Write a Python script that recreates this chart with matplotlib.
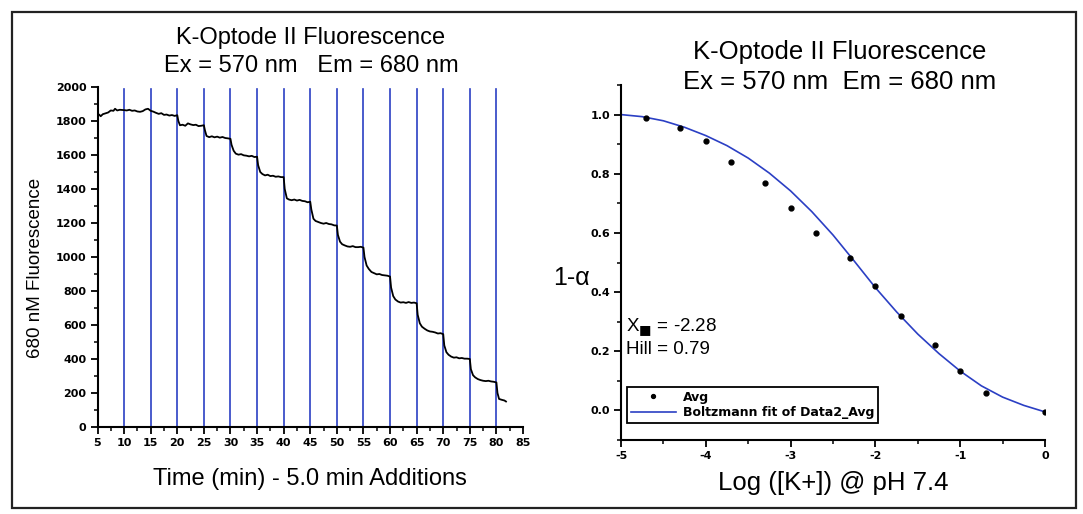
import matplotlib
matplotlib.use("Agg")
import matplotlib.pyplot as plt
from matplotlib.patches import Rectangle
from matplotlib.ticker import MultipleLocator

# ---------------- data: left panel (time trace) ----------------
time_min = [5.0, 5.3, 5.6, 6.0, 6.5, 7.0, 7.5, 8.0, 8.3, 8.7, 9.2, 10.0, 10.5, 11.0, 11.5,
            12.0, 12.5, 13.0, 13.5, 14.0, 14.5, 15.0, 15.5, 16.0, 16.5, 17.0, 17.5, 18.0,
            18.5, 19.0, 19.5, 20.0, 20.2, 20.5, 21.0, 21.5, 22.0, 22.5, 23.0, 23.5, 24.0,
            24.5, 25.0, 25.2, 25.5, 26.0, 26.5, 27.0, 27.5, 28.0, 28.5, 29.0, 29.5, 30.0,
            30.2, 30.6, 31.0, 31.5, 32.0, 32.5, 33.0, 33.5, 34.0, 34.5, 35.0, 35.2, 35.6,
            36.0, 36.5, 37.0, 37.5, 38.0, 38.5, 39.0, 39.5, 40.0, 40.2, 40.6, 41.0, 41.5,
            42.0, 42.5, 43.0, 43.5, 44.0, 44.5, 45.0, 45.2, 45.6, 46.0, 46.5, 47.0, 47.5,
            48.0, 48.5, 49.0, 49.5, 50.0, 50.2, 50.6, 51.0, 51.5, 52.0, 52.5, 53.0, 53.5,
            54.0, 54.5, 55.0, 55.2, 55.6, 56.0, 56.5, 57.0, 57.5, 58.0, 58.5, 59.0, 59.5,
            60.0, 60.2, 60.6, 61.0, 61.5, 62.0, 62.5, 63.0, 63.5, 64.0, 64.5, 65.0, 65.2,
            65.6, 66.0, 66.5, 67.0, 67.5, 68.0, 68.5, 69.0, 69.5, 70.0, 70.2, 70.6, 71.0,
            71.5, 72.0, 72.5, 73.0, 73.5, 74.0, 74.5, 75.0, 75.2, 75.6, 76.0, 76.5, 77.0,
            77.5, 78.0, 78.5, 79.0, 79.5, 80.0, 80.2, 80.5, 81.0, 81.5, 81.8]
fluorescence = [1830, 1838, 1828, 1840, 1845, 1850, 1862, 1860, 1872, 1862, 1866, 1864, 1862,
                1866, 1860, 1862, 1856, 1854, 1858, 1868, 1872, 1860, 1855, 1848, 1842, 1846,
                1836, 1838, 1832, 1835, 1830, 1834, 1800, 1775, 1778, 1772, 1786, 1780, 1776,
                1778, 1770, 1772, 1775, 1745, 1712, 1705, 1710, 1704, 1708, 1702, 1706, 1700,
                1698, 1695, 1660, 1625, 1608, 1602, 1605, 1598, 1596, 1592, 1595, 1588, 1590,
                1540, 1500, 1488, 1480, 1484, 1476, 1478, 1472, 1474, 1470, 1470, 1400, 1345,
                1338, 1334, 1338, 1332, 1336, 1330, 1328, 1322, 1325, 1280, 1225, 1212, 1206,
                1200, 1196, 1200, 1194, 1192, 1186, 1185, 1130, 1090, 1075, 1068, 1062, 1060,
                1064, 1058, 1058, 1060, 1055, 1000, 950, 930, 912, 905, 898, 900, 894, 892,
                890, 885, 820, 770, 750, 738, 732, 734, 730, 735, 730, 732, 728, 660, 610,
                590, 578, 568, 562, 560, 556, 550, 552, 546, 480, 440, 425, 414, 408, 410,
                404, 406, 402, 402, 400, 340, 305, 292, 282, 276, 272, 270, 272, 268, 266,
                262, 200, 165, 160, 156, 150]
addition_times = [10, 15, 20, 25, 30, 35, 40, 45, 50, 55, 60, 65, 70, 75, 80]
left_xticks = [5, 10, 15, 20, 25, 30, 35, 40, 45, 50, 55, 60, 65, 70, 75, 80, 85]
left_yticks = [0, 200, 400, 600, 800, 1000, 1200, 1400, 1600, 1800, 2000]

# ---------------- data: right panel (titration) ----------------
log_k = [-4.7, -4.3, -4.0, -3.7, -3.3, -3.0, -2.7, -2.3, -2.0, -1.7, -1.3, -1.0, -0.7, 0.0]
one_minus_alpha = [0.987, 0.954, 0.91, 0.84, 0.77, 0.683, 0.60, 0.516, 0.42, 0.32, 0.22,
                   0.132, 0.06, -0.007]
fit_x = [-5.0, -4.75, -4.5, -4.25, -4.0, -3.75, -3.5, -3.25, -3.0, -2.75, -2.5, -2.25,
         -2.0, -1.75, -1.5, -1.25, -1.0, -0.75, -0.5, -0.25, 0.0]
fit_y = [1.0, 0.993, 0.979, 0.957, 0.929, 0.895, 0.853, 0.802, 0.742, 0.672, 0.593, 0.505,
         0.415, 0.333, 0.258, 0.192, 0.133, 0.083, 0.045, 0.017, -0.005]
right_xticks = [-5, -4, -3, -2, -1, 0]
right_yticks = [0.0, 0.2, 0.4, 0.6, 0.8, 1.0]
x0_text = "-2.28"
hill_text = "0.79"

W, H = 1083, 514
fig = plt.figure(figsize=(W / 100, H / 100), dpi=100)
fig.patch.set_facecolor("white")

def px_axes(l, t, r, b):
    return fig.add_axes([l / W, 1 - b / H, (r - l) / W, (b - t) / H])

TEXT_FONT = ["Liberation Sans", "DejaVu Sans"]
TICK_KW = dict(family="DejaVu Sans", weight="bold", size=8)
BLUE = "#2b3fc4"

# border
fig.add_artist(Rectangle((12 / W, 1 - 508 / H), (1076 - 12) / W, (508 - 12) / H,
                         transform=fig.transFigure, fill=False, edgecolor="#222222",
                         linewidth=1.6))

# ---------------- left panel ----------------
ax1 = px_axes(97.5, 87, 523, 427)
for t in addition_times:
    ax1.axvline(t, color=BLUE, linewidth=1.2, ymax=0.995)
ax1.plot(time_min, fluorescence, color="black", linewidth=1.3)
ax1.set_xlim(5, 85)
ax1.set_ylim(0, 2000)
ax1.set_xticks(left_xticks)
ax1.set_xticklabels([str(v) for v in left_xticks], **TICK_KW)
ax1.set_yticks(left_yticks)
ax1.set_yticklabels([str(v) for v in left_yticks], **TICK_KW)
ax1.xaxis.set_minor_locator(MultipleLocator(2.5))
ax1.yaxis.set_minor_locator(MultipleLocator(100))
for sp in ("top", "right"):
    ax1.spines[sp].set_visible(False)
for sp in ("left", "bottom"):
    ax1.spines[sp].set_linewidth(1.5)
ax1.tick_params(which="major", direction="out", length=5, width=1.3, pad=3)
ax1.tick_params(which="minor", direction="out", length=3, width=1.1)
ax1.set_xlabel("Time (min) - 5.0 min Additions", fontsize=17, family=TEXT_FONT, labelpad=14)
fig.text(36 / W, 1 - 268 / H, "680 nM Fluorescence", rotation=90, ha="center", va="center",
         fontsize=13.5, family=TEXT_FONT)
fig.text(311 / W, 1 - 52 / H, "K-Optode II Fluorescence\nEx = 570 nm   Em = 680 nm",
         ha="center", va="center", fontsize=17, family=TEXT_FONT, linespacing=1.3)

# ---------------- right panel ----------------
ax2 = px_axes(621, 85, 1045, 440)
ax2.plot(fit_x, fit_y, color=BLUE, linewidth=1.2, label="Boltzmann fit of Data2_Avg", zorder=2)
ax2.plot(log_k, one_minus_alpha, linestyle="none", marker="o", markersize=3.5,
         color="black", label="Avg", zorder=3)
ax2.set_xlim(-5, 0)
ax2.set_ylim(-0.1, 1.1)
ax2.set_xticks(right_xticks)
ax2.set_xticklabels([str(v) for v in right_xticks], **TICK_KW)
ax2.set_yticks(right_yticks)
ax2.set_yticklabels([f"{v:.1f}" for v in right_yticks], **TICK_KW)
ax2.xaxis.set_minor_locator(MultipleLocator(0.5))
ax2.yaxis.set_minor_locator(MultipleLocator(0.1))
for sp in ("top", "right"):
    ax2.spines[sp].set_visible(False)
for sp in ("left", "bottom"):
    ax2.spines[sp].set_linewidth(1.5)
ax2.tick_params(which="major", direction="out", length=5, width=1.3, pad=3)
ax2.tick_params(which="minor", direction="out", length=3, width=1.1)
ax2.set_xlabel("Log ([K+]) @ pH 7.4", fontsize=18.5, family=TEXT_FONT, labelpad=7)
fig.text(590 / W, 1 - 278 / H, "1-α", ha="right", va="center", fontsize=18, family=TEXT_FONT)
fig.text(840 / W, 1 - 67 / H, "K-Optode II Fluorescence\nEx = 570 nm  Em = 680 nm",
         ha="center", va="center", fontsize=18.5, family=TEXT_FONT, linespacing=1.3)

fig.text(626 / W, 1 - 328 / H, r"X$_{\blacksquare}$ = " + x0_text, ha="left", va="center",
         fontsize=13.5, family=TEXT_FONT)
fig.text(626 / W, 1 - 349 / H, "Hill = " + hill_text, ha="left", va="center",
         fontsize=13.5, family=TEXT_FONT)

handles, labels = ax2.get_legend_handles_labels()
leg = ax2.legend(handles[::-1], labels[::-1], loc="lower left",
                 bbox_to_anchor=(6 / 424, 17 / 355), borderaxespad=0, fancybox=False,
                 edgecolor="black", framealpha=1, handlelength=3.6, handletextpad=0.6,
                 borderpad=0.3, labelspacing=0.2, markerscale=0.8,
                 prop=dict(family="DejaVu Sans", weight="bold", size=9))
leg.get_frame().set_linewidth(1.3)

fig.savefig("out.png", dpi=100, facecolor="white")
